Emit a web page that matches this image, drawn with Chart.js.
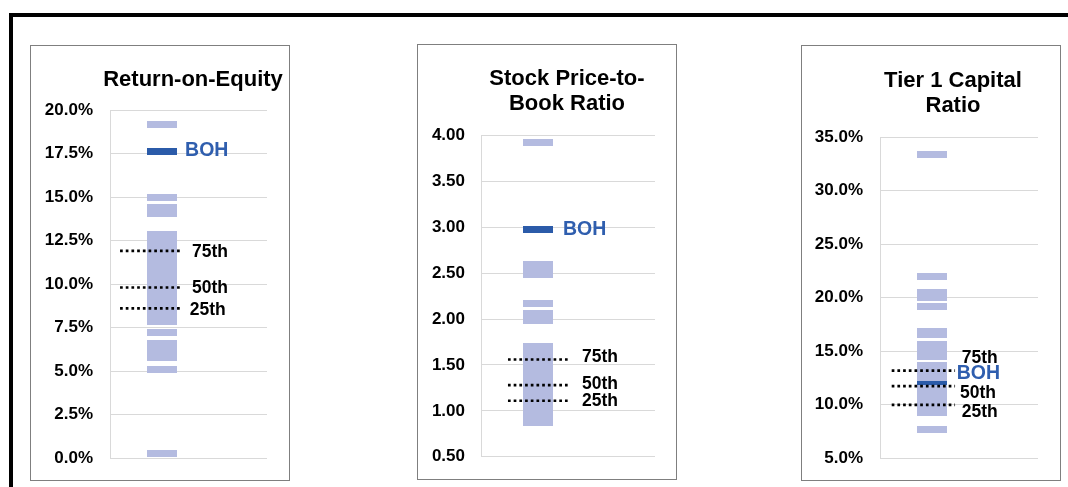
<!DOCTYPE html>
<html><head><meta charset="utf-8">
<script src="https://cdn.jsdelivr.net/npm/chart.js@4/dist/chart.umd.min.js"></script>
<style>
html,body{margin:0;padding:0;background:#fff;width:1068px;height:487px;overflow:hidden;}
#frame{position:absolute;left:9px;top:13px;width:1100px;height:520px;border-top:4px solid #000;border-left:4px solid #000;}
.panel{position:absolute;width:258px;height:434px;border:1px solid #7f7f7f;background:#fff;}
.panel canvas{display:block;position:absolute;left:0;top:0;}
</style></head><body>
<div id="frame"></div>
<div class="panel" style="left:30px;top:45px;"><canvas id="c1" width="258" height="434"></canvas></div>
<div class="panel" style="left:417px;top:44px;"><canvas id="c2" width="258" height="434"></canvas></div>
<div class="panel" style="left:801px;top:45px;"><canvas id="c3" width="258" height="434"></canvas></div>
<script>
// ---------- DATA ----------
const percentileLabels = ["75th", "50th", "25th"];
const bohLabel = "BOH";

const roeTitle = ["Return-on-Equity"];
const roeTickLabels = ["0.0%", "2.5%", "5.0%", "7.5%", "10.0%", "12.5%", "15.0%", "17.5%", "20.0%"];
const roePeers = [19.14, 14.98, 14.40, 14.05,
  12.84, 12.50, 12.15, 11.85, 11.60, 11.30, 11.00, 10.70, 10.35, 10.00, 9.70, 9.40, 9.05, 8.70, 8.40, 8.10, 7.84,
  7.24, 6.58, 6.18, 5.78, 5.09, 0.26];
const roeBoh = 17.6;
const roePercentiles = [11.9, 9.8, 8.6];

const pbTitle = ["Stock Price-to-", "Book Ratio"];
const pbTickLabels = ["0.50", "1.00", "1.50", "2.00", "2.50", "3.00", "3.50", "4.00"];
const pbPeers = [3.93, 2.60, 2.54, 2.49, 2.165, 2.06, 2.01, 1.98,
  1.70, 1.63, 1.56, 1.49, 1.42, 1.35, 1.28, 1.21, 1.14, 1.07, 1.00, 0.94, 0.87];
const pbBoh = 2.98;
const pbPercentiles = [1.56, 1.28, 1.11];

const t1Title = ["Tier 1 Capital", "Ratio"];
const t1TickLabels = ["5.0%", "10.0%", "15.0%", "20.0%", "25.0%", "30.0%", "35.0%"];
const t1Peers = [33.36, 22.0, 20.47, 20.06, 19.17, 16.82, 16.54, 15.66, 15.12, 14.51,
  13.70, 13.09, 12.55, 11.55, 11.01, 10.40, 9.84, 9.28, 7.72];
const t1Boh = 12.04;
const t1Percentiles = [13.2, 11.75, 10.0];

// ---------- STYLE ----------
const FONT = "'Liberation Sans', Arial, sans-serif";
const PEER_COLOR = "#b4bbe0";
const BOH_COLOR = "#2b5ba9";
const BOH_TEXT = "#2f5eae";

function rectImage(w, h, color) {
  const c = document.createElement('canvas');
  c.width = w; c.height = h;
  const g = c.getContext('2d');
  g.fillStyle = color; g.fillRect(0, 0, w, h);
  return c;
}

const labelPlugin = {
  id: 'markLabels',
  afterDatasetsDraw(chart, args, opts) {
    const { ctx, scales: { x, y } } = chart;
    ctx.save();
    ctx.textBaseline = 'middle';
    ctx.textAlign = 'left';
    (opts.items || []).forEach(it => {
      ctx.font = it.font;
      ctx.fillStyle = it.color;
      ctx.fillText(it.text, x.getPixelForValue(it.x), y.getPixelForValue(it.y) + it.dy);
    });
    // panel title
    const t = opts.title;
    ctx.font = "bold 22px " + FONT;
    ctx.fillStyle = '#000';
    ctx.textAlign = 'center';
    t.lines.forEach((line, i) => ctx.fillText(line, t.x, t.y + i * t.gap));
    ctx.restore();
  }
};

function makeChart(id, title, tickLabels, peers, boh, pcts, L) {
  const peerImg = rectImage(30, 7, PEER_COLOR);
  const bohImg = rectImage(30, 7, BOH_COLOR);
  const pctSet = (v) => ({
    type: 'line',
    data: [{ x: L.lineFrom, y: v }, { x: L.lineTo, y: v }],
    borderColor: '#000', borderWidth: 2.7, borderDash: [2.7, 3.0],
    borderCapStyle: 'butt', pointRadius: 0, fill: false, clip: false
  });
  const items = pcts.map((v, i) => ({
    text: percentileLabels[i], x: L.labelX[i], y: v, dy: L.labelDy[i],
    font: "bold 17.5px " + FONT, color: '#000'
  }));
  items.push({ text: bohLabel, x: L.bohX, y: boh, dy: L.bohDy, font: "bold 19.5px " + FONT, color: BOH_TEXT });

  return new Chart(document.getElementById(id), {
    type: 'scatter',
    data: {
      datasets: [
        pctSet(pcts[0]), pctSet(pcts[1]), pctSet(pcts[2]),
        { type: 'scatter', data: peers.map(v => ({ x: L.barX, y: v })), pointStyle: peerImg, pointRadius: 3, clip: false },
        { type: 'scatter', data: [{ x: L.barX, y: boh }], pointStyle: bohImg, pointRadius: 3, clip: false }
      ]
    },
    options: {
      responsive: false, animation: false, events: [],
      layout: { autoPadding: false, padding: { left: 0, top: L.padTop, right: L.padRight, bottom: L.padBottom } },
      plugins: {
        legend: { display: false }, tooltip: { enabled: false }, title: { display: false },
        markLabels: { items, title: { lines: title, x: L.titleX, y: L.titleY, gap: L.titleGap } }
      },
      scales: {
        x: { type: 'linear', display: false, min: 0, max: 1 },
        y: {
          type: 'linear', min: L.min, max: L.max,
          afterFit: (s) => { s.width = L.axisWidth; },
          ticks: {
            stepSize: L.step, padding: L.tickPad, color: '#000',
            font: { family: FONT, size: 17, weight: 'bold', lineHeight: 0.5 },
            callback: (v, i) => tickLabels[i]
          },
          grid: { color: '#d9d9d9', lineWidth: 1, drawTicks: false },
          border: { display: true, color: '#d9d9d9', width: 1 }
        }
      }
    },
    plugins: [labelPlugin]
  });
}

makeChart('c1', roeTitle, roeTickLabels, roePeers, roeBoh, roePercentiles, {
  min: 0, max: 20, step: 2.5, axisWidth: 79, tickPad: 17, padTop: 64, padRight: 22, padBottom: 22,
  titleX: 162, titleY: 34, titleGap: 25,
  barX: 0.331, lineFrom: 0.064, lineTo: 0.452, labelX: [0.522, 0.522, 0.508], labelDy: [1, 1, 2],
  bohX: 0.478, bohDy: -1
});
makeChart('c2', pbTitle, pbTickLabels, pbPeers, pbBoh, pbPercentiles, {
  min: 0.5, max: 4, step: 0.5, axisWidth: 63, tickPad: 16, padTop: 90.7, padRight: 21, padBottom: 22.3,
  titleX: 149, titleY: 34, titleGap: 25,
  barX: 0.328, lineFrom: 0.155, lineTo: 0.511, labelX: [0.58, 0.58, 0.58], labelDy: [-2, -1, 0],
  bohX: 0.471, bohDy: 0
});
makeChart('c3', t1Title, t1TickLabels, t1Peers, t1Boh, t1Percentiles, {
  min: 5, max: 35, step: 5, axisWidth: 78, tickPad: 17, padTop: 91.3, padRight: 22, padBottom: 21.7,
  titleX: 151, titleY: 34.7, titleGap: 25.3,
  barX: 0.332, lineFrom: 0.074, lineTo: 0.475, labelX: [0.517, 0.506, 0.517], labelDy: [-12, 7, 7],
  bohX: 0.486, bohDy: -9
});
</script>
</body></html>
